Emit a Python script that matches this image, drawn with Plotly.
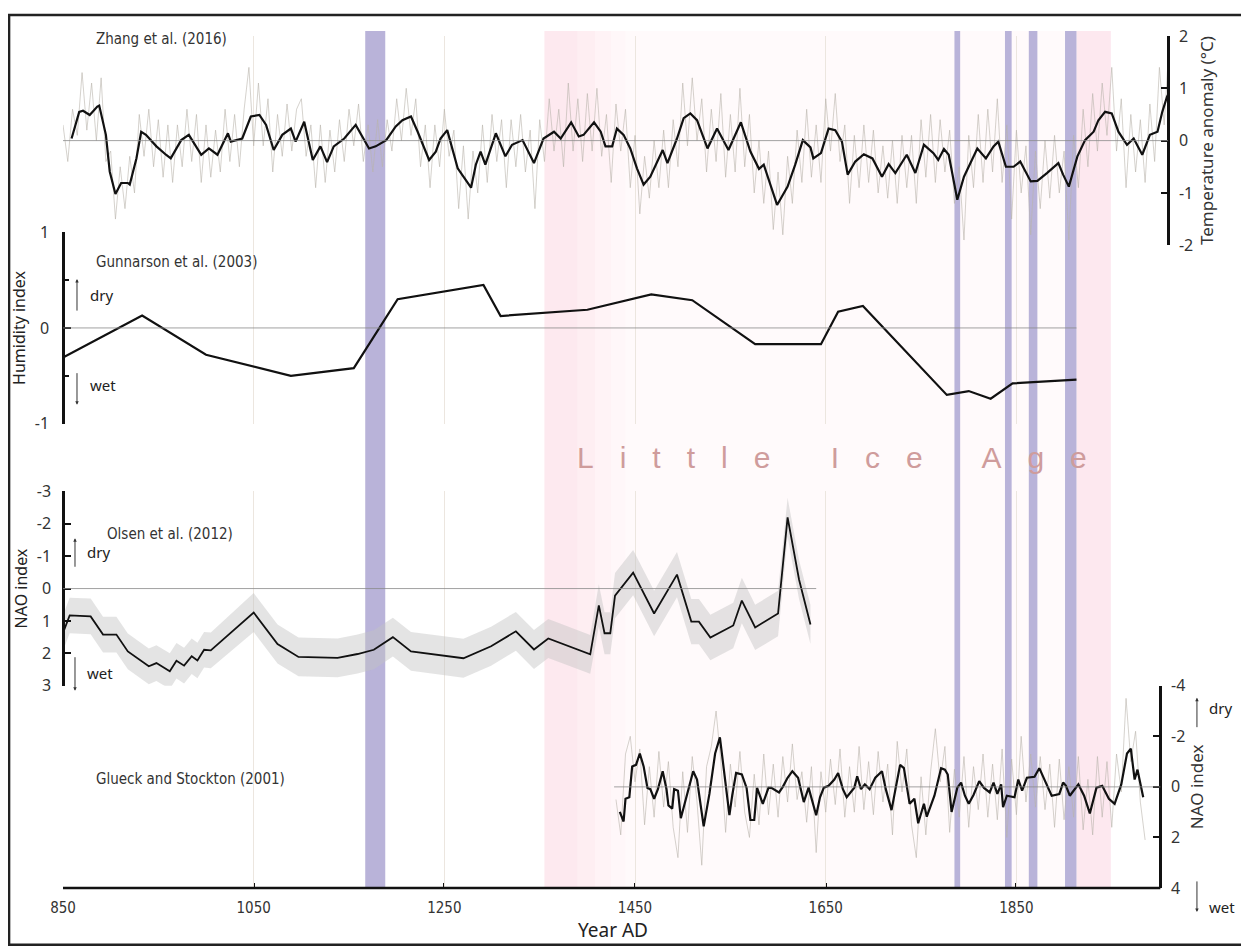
import plotly.graph_objects as go

# ---------------- data ----------------
zhang_annual_years = list(range(850, 2011, 5))
zhang_annual = [
    0.3, -0.4, 0.6, 0.1, 1.3, 0.2, 1.1, 0.0, 1.2, -0.4,
    -0.2, -1.5, -0.5, -1.3, -0.3, -1.0, 0.5, -0.3, 0.6, -0.5,
    0.4, -0.7, 0.3, -0.8, 0.3, -0.5, 0.6, -0.4, 0.5, -0.8,
    0.3, -0.7, 0.2, -0.6, 0.6, -0.4, 0.5, -0.5, 0.6, 1.4,
    -0.1, 1.1, -0.1, 0.8, -0.6, 0.5, -0.3, 0.7, -0.2, 0.6,
    0.8, -0.3, 0.3, -0.9, 0.3, -0.8, 0.2, -0.6, 0.4, -0.4,
    0.6, -0.1, 0.7, -0.4, 0.3, -0.6, 0.4, -0.5, 0.4, -0.2,
    0.8, 0.0, 1.0, 0.1, 0.8, -0.5, 0.3, -0.9, 0.3, -0.5,
    0.6, -0.3, 0.2, -1.3, -0.1, -1.5, -0.2, -1.0, 0.3, -0.8,
    0.5, -0.4, 0.4, -0.9, 0.4, -0.5, 0.5, -0.6, 0.2, -1.3,
    0.4, -0.4, 0.8, -0.2, 0.6, -0.5, 1.1, -0.2, 0.8, -0.4,
    0.9, -0.2, 1.0, -0.3, 0.5, -0.8, 0.7, -0.2, 0.6, -0.9,
    0.1, -1.4, -0.3, -1.1, 0.0, -0.9, 0.2, -0.9, 0.4, -0.5,
    1.1, -0.1, 1.2, 0.0, 0.8, -0.6, 0.6, -0.4, 0.9, -0.7,
    0.5, -0.6, 1.0, -0.5, 0.5, -1.0, 0.0, -1.2, -0.2, -1.7,
    -0.6, -1.8, -0.3, -1.2, 0.2, -0.8, 0.6, -0.7, 0.3, -0.8,
    0.8, -0.2, 0.9, -0.4, 0.3, -1.2, 0.1, -0.9, 0.3, -0.8,
    0.2, -1.0, -0.1, -1.1, 0.0, -1.2, 0.1, -0.9, 0.1, -1.2,
    0.4, -0.7, 0.5, -0.8, 0.4, -0.6, 0.2, -1.2, -0.5, -1.9,
    0.1, -0.9, 0.5, -0.8, 0.6, -0.6, 0.8, -0.8, 0.3, -1.5,
    0.2, -1.0, -0.1, -1.8, -0.2, -1.3, 0.0, -1.1, 0.1, -1.0,
    -0.2, -1.9, 0.1, -0.9, 0.6, -0.5, 0.9, -0.2, 1.1, 0.1,
    1.4, -0.2, 0.8, -0.9, 0.5, -0.6, 0.4, -0.8, 0.7, -0.4,
    1.4, 0.3, 1.8,
]

zhang_years = [
    859, 867, 871, 878, 886, 888, 895, 899, 905, 911, 918, 920, 927, 932, 937,
    948, 958, 963, 974, 982, 995, 1003, 1012, 1023, 1026, 1038, 1047, 1056,
    1063, 1071, 1080, 1089, 1094, 1103, 1112, 1120, 1127, 1134, 1145, 1157,
    1171, 1178, 1189, 1199, 1206, 1215, 1222, 1229, 1234, 1241, 1246, 1253,
    1264, 1270, 1278, 1283, 1288, 1293, 1304, 1314, 1321, 1332, 1344, 1354,
    1365, 1372, 1383, 1391, 1396, 1407, 1414, 1419, 1426, 1431, 1438, 1445,
    1452, 1459, 1466, 1479, 1484, 1494, 1501, 1508, 1515, 1526, 1536, 1548,
    1561, 1571, 1580, 1585, 1590, 1599, 1610, 1618, 1626, 1634, 1637, 1645,
    1653, 1660, 1667, 1673, 1681, 1690, 1699, 1709, 1716, 1723, 1735, 1744,
    1753, 1763, 1768, 1774, 1779, 1788, 1795, 1809, 1818, 1826, 1831, 1839,
    1847, 1854, 1865, 1872, 1882, 1894, 1899, 1905, 1914, 1922, 1931, 1936,
    1943, 1950, 1957, 1966, 1973, 1982, 1990, 1998, 2003, 2008, 2013,
]
zhang_smooth = [
    0.04, 0.55, 0.57, 0.49, 0.65, 0.67, 0.11, -0.59, -1.02, -0.81, -0.81, -0.84, -0.34, 0.17, 0.11,
    -0.11, -0.27, -0.34, 0.01, 0.11, -0.27, -0.15, -0.27, 0.14, -0.02, 0.04, 0.46, 0.49,
    0.30, -0.18, 0.11, 0.23, -0.02, 0.36, -0.37, -0.11, -0.41, -0.11, 0.04, 0.30,
    -0.15, -0.11, 0.01, 0.27, 0.39, 0.46, 0.17, -0.15, -0.37, -0.21, 0.04, 0.20,
    -0.53, -0.69, -0.90, -0.46, -0.21, -0.46, 0.14, -0.30, -0.08, 0.01, -0.43, 0.04,
    0.17, 0.04, 0.35, 0.08, 0.11, 0.35, 0.17, -0.11, -0.11, 0.23, 0.11, -0.15,
    -0.53, -0.84, -0.69, -0.18, -0.43, 0.04, 0.43, 0.52, 0.39, -0.15, 0.23, -0.18,
    0.35, -0.21, -0.54, -0.46, -0.72, -1.23, -0.88, -0.46, 0.01, -0.13, -0.34, -0.24,
    0.23, 0.20, -0.02, -0.65, -0.40, -0.26, -0.34, -0.69, -0.45, -0.62, -0.27, -0.62,
    -0.08, -0.24, -0.37, -0.16, -0.27, -1.13, -0.69, -0.15, -0.34, -0.11, -0.02, -0.50,
    -0.50, -0.40, -0.78, -0.77, -0.62, -0.43, -0.65, -0.88, -0.30, 0.01, 0.17, 0.39,
    0.55, 0.52, 0.17, -0.08, 0.04, -0.27, 0.11, 0.17, 0.55, 0.84, 1.03,
]

gunnarson_years = [850, 933, 1000, 1089, 1155, 1201, 1291, 1309, 1400, 1467, 1510,
                   1576, 1645, 1663, 1689, 1777, 1800, 1823, 1846, 1913]
gunnarson_humidity = [-0.31, 0.13, -0.28, -0.50, -0.42, 0.30, 0.45, 0.125, 0.19, 0.35, 0.29,
                      -0.17, -0.17, 0.17, 0.23, -0.70, -0.66, -0.74, -0.58, -0.54]

olsen_years = [850, 857, 879, 892, 906, 918, 940, 948, 962, 969, 977, 985, 991, 998, 1005,
               1050, 1075, 1097, 1138, 1159, 1176, 1196, 1215, 1270, 1299, 1325, 1344,
               1359, 1403, 1412, 1418, 1424, 1429, 1448, 1470, 1494, 1509, 1517, 1529,
               1553, 1562, 1576, 1600, 1610, 1622, 1634]
olsen_nao = [1.37, 0.83, 0.86, 1.42, 1.42, 1.94, 2.40, 2.30, 2.55, 2.23, 2.38, 2.09, 2.22, 1.89, 1.91,
             0.74, 1.71, 2.11, 2.14, 2.02, 1.89, 1.50, 1.94, 2.15, 1.78, 1.32, 1.88,
             1.54, 2.03, 0.52, 1.38, 1.38, 0.22, -0.49, 0.77, -0.43, 1.02, 1.02, 1.51,
             1.14, 0.37, 1.20, 0.77, -2.20, -0.28, 1.11]
olsen_err = [0.55, 0.55, 0.55, 0.55, 0.55, 0.55, 0.55, 0.55, 0.55, 0.55, 0.55, 0.55, 0.55, 0.55, 0.55,
             0.6, 0.6, 0.6, 0.6, 0.6, 0.6, 0.6, 0.6, 0.6, 0.6, 0.6, 0.6,
             0.6, 0.6, 0.65, 0.65, 0.65, 0.7, 0.7, 0.7, 0.7, 0.7, 0.7, 0.7,
             0.7, 0.7, 0.7, 0.7, 0.6, 0.6, 0.6]

glueck_annual_years = list(range(1430, 1986, 5))
glueck_annual = [
    0.5, 1.9, -1.3, -2.0, -0.2, -1.5, 1.5, -0.8, 1.2, -1.4,
    0.8, -1.0, 1.6, 2.8, -0.6, 1.8, -1.2, 0.6, 3.1, -0.8,
    -1.6, -3.0, -1.0, 1.8, -0.9, 0.8, -1.4, 1.0, 2.0, -0.5,
    1.5, -1.3, 1.1, -0.9, 1.2, -1.2, 0.6, -1.7, 0.5, -0.6,
    1.4, -0.8, 2.6, -0.6, 1.0, -1.1, 0.7, -1.5, 1.2, -0.8,
    1.0, -1.6, 0.9, -1.0, 1.1, -1.4, 0.6, -0.9, 1.9, -1.8,
    0.2, -1.5, 1.5, 2.8, -0.4, 1.9, -0.6, -2.3, -0.2, -1.6,
    1.8, -0.7, 1.2, -1.2, 1.6, -0.8, 0.9, -1.3, 1.2, -0.9,
    1.3, -1.5, 2.0, -1.1, 1.1, -2.0, 0.6, -1.3, 0.8, -1.2,
    0.9, -0.9, 1.6, -1.1, 1.3, -0.8, 1.2, -1.2, 1.7, -0.3,
    1.9, -1.2, 1.2, -1.0, 1.6, -1.3, 0.2, -3.5, -1.0, -2.2,
    0.6, 2.1,
]

glueck_years = [
    1434, 1438, 1440, 1444, 1447, 1451, 1455, 1459, 1463, 1466, 1470, 1474, 1479, 1483,
    1485, 1489, 1491, 1495, 1498, 1504, 1511, 1515, 1522, 1528, 1534, 1539, 1543, 1549,
    1552, 1556, 1562, 1567, 1571, 1575, 1578, 1584, 1590, 1593, 1601, 1605, 1610, 1615,
    1621, 1627, 1632, 1637, 1640, 1644, 1648, 1653, 1659, 1663, 1668, 1672, 1680, 1683,
    1687, 1691, 1696, 1702, 1709, 1713, 1719, 1728, 1732, 1738, 1743, 1747, 1753, 1756,
    1764, 1771, 1775, 1778, 1782, 1788, 1792, 1796, 1800, 1805, 1811, 1816, 1822, 1826,
    1830, 1834, 1836, 1840, 1848, 1852, 1856, 1861, 1869, 1874, 1880, 1887, 1895, 1899,
    1902, 1906, 1915, 1921, 1927, 1934, 1940, 1947, 1953, 1960, 1966, 1970, 1974, 1977, 1983,
]
glueck_nao = [
    0.99, 1.37, 0.47, 0.41, -0.81, -0.87, -1.32, -0.81, 0.04, 0.09, 0.47, 0.09, -0.62, 0.09,
    0.73, 0.86, 0.09, 0.15, 1.24, 0.41, -0.62, -0.29, 1.56, 0.28, -1.32, -1.96, -0.68, 1.12,
    0.32, -0.55, -0.49, 0.04, 1.31, 1.31, 0.04, 0.67, 0.03, 0.04, 0.22, 0.00, -0.36, -0.62,
    -0.36, 0.60, 0.03, 0.73, 1.12, 0.41, 0.03, -0.04, -0.29, -0.55, 0.09, 0.41, 0.03, -0.42,
    0.09, -0.10, 0.09, -0.36, -0.62, 0.09, 0.92, -0.87, -0.74, 0.67, 0.47, 1.44, 0.67, 1.18,
    0.35, -0.74, -0.68, -0.49, 0.99, 0.03, -0.17, 0.35, 0.67, 0.32, -0.23, 0.04, 0.22, -0.17,
    0.28, -0.10, 0.80, 0.35, 0.41, -0.29, 0.15, -0.36, -0.40, -0.74, -0.23, 0.35, 0.28, -0.17,
    -0.04, 0.35, -0.10, 0.35, 1.05, 0.03, -0.04, 0.47, 0.67, -0.10, -1.32, -1.51, -0.29, -0.68, 0.41,
]

# event bands (years) and Little Ice Age shading steps
cold_events = [(1167, 1188), (1785, 1791), (1838, 1845), (1863, 1872), (1901, 1913)]
lia_span = (1355, 1949)
lia_steps = [(1355, 1390, '#fde9ef'), (1390, 1408, '#feeef2'), (1408, 1425, '#fff3f6'),
             (1425, 1440, '#fff7f9'), (1913, 1949, '#fde8ef')]

# zero-line extents per panel (years)
zero_temp = (850, 2009)
zero_hum = (850, 1913)
zero_olsen = (850, 1640)
zero_glueck = (1428, 2001)

x_ticks = [850, 1050, 1250, 1450, 1650, 1850]
temp_ticks = [-2, -1, 0, 1, 2]
hum_ticks = [-1, 0, 1]
olsen_ticks = [-3, -2, -1, 0, 1, 2, 3]
glueck_ticks = [-4, -2, 0, 2, 4]

# ---------------- figure ----------------
COND = "Liberation Sans Narrow, DejaVu Sans Condensed, Roboto Condensed, Roboto, sans-serif"
REG = "Noto Sans, Open Sans, DejaVu Sans, sans-serif"
GRAY = 'rgba(185,180,172,0.6)'

fig = go.Figure()

fig.add_trace(go.Scatter(x=zhang_annual_years, y=zhang_annual, mode='lines',
                         line=dict(color=GRAY, width=1), yaxis='y', showlegend=False))
fig.add_trace(go.Scatter(x=zhang_years, y=zhang_smooth, mode='lines',
                         line=dict(color='#111', width=2.2), yaxis='y', showlegend=False))

fig.add_trace(go.Scatter(x=gunnarson_years, y=gunnarson_humidity, mode='lines',
                         line=dict(color='#111', width=2.2), yaxis='y2', showlegend=False))

olsen_lo = [v - e for v, e in zip(olsen_nao, olsen_err)]
olsen_hi = [v + e for v, e in zip(olsen_nao, olsen_err)]
fig.add_trace(go.Scatter(x=olsen_years, y=olsen_lo, mode='lines', line=dict(width=0),
                         yaxis='y3', showlegend=False, hoverinfo='skip'))
fig.add_trace(go.Scatter(x=olsen_years, y=olsen_hi, mode='lines', line=dict(width=0),
                         fill='tonexty', fillcolor='rgba(195,195,195,0.45)',
                         yaxis='y3', showlegend=False, hoverinfo='skip'))
fig.add_trace(go.Scatter(x=olsen_years, y=olsen_nao, mode='lines',
                         line=dict(color='#111', width=1.8), yaxis='y3', showlegend=False))

fig.add_trace(go.Scatter(x=glueck_annual_years, y=glueck_annual, mode='lines',
                         line=dict(color=GRAY, width=1), yaxis='y4', showlegend=False))
fig.add_trace(go.Scatter(x=glueck_years, y=glueck_nao, mode='lines',
                         line=dict(color='#111', width=2.2), yaxis='y4', showlegend=False))

shapes = []
# Little Ice Age shading
shapes.append(dict(type='rect', xref='x', yref='paper', x0=lia_span[0], x1=lia_span[1],
                   y0=0, y1=1, fillcolor='#fffafb', line=dict(width=0), layer='below'))
for a, b, c in lia_steps:
    shapes.append(dict(type='rect', xref='x', yref='paper', x0=a, x1=b, y0=0, y1=1,
                       fillcolor=c, line=dict(width=0), layer='below'))
for a, b in cold_events:
    shapes.append(dict(type='rect', xref='x', yref='paper', x0=a, x1=b, y0=0, y1=1,
                       fillcolor='#b9b3d9', line=dict(width=0), layer='below'))
# zero lines
for (a, b), yr in [(zero_temp, 'y'), (zero_hum, 'y2'), (zero_olsen, 'y3'), (zero_glueck, 'y4')]:
    shapes.append(dict(type='line', xref='x', yref=yr, x0=a, x1=b, y0=0, y1=0,
                       line=dict(color='#8a8a8a', width=0.8), layer='above'))
# x axis line
shapes.append(dict(type='line', xref='x', yref='paper', x0=850, x1=2001, y0=0, y1=0,
                   line=dict(color='#111', width=2.5)))
# outer frame
shapes.append(dict(type='rect', xref='paper', yref='paper', x0=-0.0488, x1=1.0696,
                   y0=-0.0663, y1=1.0186, line=dict(color='#222', width=2.5)))

ann = []
def label(text, xp, yp, size=15, font=COND, anchor='left', color='#333'):
    ann.append(dict(text=text, x=xp, y=yp, xref='paper', yref='paper', showarrow=False,
                    xanchor=anchor, yanchor='middle', font=dict(size=size, family=font, color=color)))

def arrow(xp, yp, ay):
    ann.append(dict(text='', x=xp, y=yp, xref='paper', yref='paper', showarrow=True,
                    ax=0, ay=ay, arrowhead=2, arrowsize=0.7, arrowwidth=1, arrowcolor='#333'))

label('Zhang et al. (2016)', 0.028, 0.9907)
label('Gunnarson et al. (2003)', 0.028, 0.7302)
label('Olsen et al. (2012)', 0.038, 0.4128)
label('Glueck and Stockton (2001)', 0.028, 0.1267)

label('dry', 0.0226, 0.6919, 15, REG, color='#222')
arrow(0.01266, 0.7105, 33)
label('wet', 0.0226, 0.5872, 15, REG, color='#222')
arrow(0.01266, 0.564, -33)

label('dry', 0.0203, 0.3919, 15, REG, color='#222')
arrow(0.01085, 0.4081, 30)
label('wet', 0.0203, 0.2512, 15, REG, color='#222')
arrow(0.01085, 0.2302, -35)

label('dry', 1.0353, 0.2105, 15, REG, color='#222')
arrow(1.0262, 0.2221, 31)
label('wet', 1.0353, -0.0221, 15, REG, color='#222')
arrow(1.0262, -0.0279, -32)

label('Year AD', 0.4973, -0.0488, 19, REG, anchor='center', color='#222')
label('<span style="letter-spacing:26px">Little Ice Age</span>', 0.4629, 0.5023, 30,
      'Liberation Sans, Arial, sans-serif', color='#cf9c9c')

axis_common = dict(showgrid=False, zeroline=False, showline=True, linecolor='#111', linewidth=2.5,
                   ticks='inside', ticklen=6, tickwidth=2, tickcolor='#111', anchor='free',
                   tickfont=dict(size=16, family=REG, color='#333'))

fig.update_layout(
    width=1241, height=942,
    margin=dict(l=54, r=81, t=20, b=62),
    paper_bgcolor='white', plot_bgcolor='rgba(0,0,0,0)',
    shapes=shapes, annotations=ann,
    xaxis=dict(domain=[0, 1], range=[850, 2009], anchor='free', position=0,
               tickvals=x_ticks, ticktext=[str(v) for v in x_ticks], showline=False, zeroline=False,
               showgrid=True, gridcolor='#ece6df', gridwidth=1,
               ticks='inside', ticklen=5, tickwidth=2, tickcolor='#111', ticklabelstandoff=9,
               tickfont=dict(size=15, family=COND, color='#333')),
    yaxis=dict(axis_common, domain=[0.75, 0.9942], range=[-2, 2], side='right', position=1.0,
               tickvals=temp_ticks, ticktext=[str(v) for v in temp_ticks], ticklabelstandoff=6,
               title=dict(text='Temperature anomaly (°C)', font=dict(size=17, family=REG, color='#333'),
                          standoff=8)),
    yaxis2=dict(axis_common, domain=[0.5419, 0.7651], range=[-1, 1], side='left', position=0.0,
                tickvals=hum_ticks, ticktext=[str(v) for v in hum_ticks], ticklabelstandoff=10,
                minor=dict(dtick=0.5, ticks='inside', ticklen=4, tickwidth=1.5, tickcolor='#111'),
                title=dict(text='Humidity index', font=dict(size=16, family=REG, color='#222'),
                           standoff=4)),
    yaxis3=dict(axis_common, domain=[0.2360, 0.4628], range=[3, -3], side='left', position=0.0,
                tickvals=olsen_ticks, ticktext=[str(v) for v in olsen_ticks], ticklabelstandoff=8,
                title=dict(text='NAO index', font=dict(size=16, family=REG, color='#222'),
                           standoff=4)),
    yaxis4=dict(axis_common, domain=[0.0, 0.2360], range=[4, -4], side='right', position=0.9928,
                tickvals=glueck_ticks, ticktext=[str(v) for v in glueck_ticks], ticklabelstandoff=6,
                title=dict(text='NAO index', font=dict(size=17, family=REG, color='#333'),
                           standoff=6)),
)

fig.write_html("out.html")
